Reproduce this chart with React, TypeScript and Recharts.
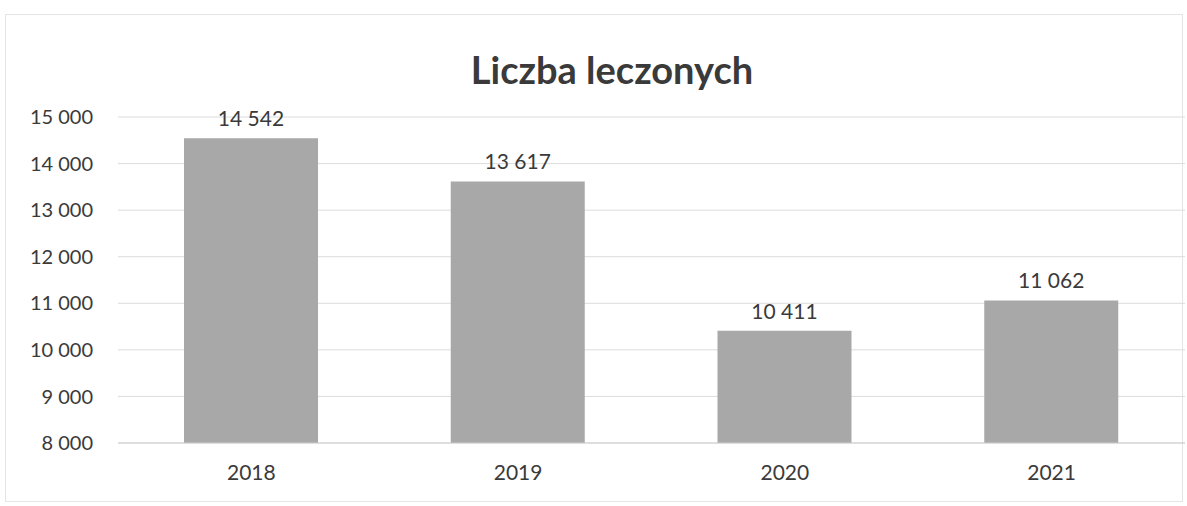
import { BarChart, Bar, XAxis, YAxis, CartesianGrid, LabelList } from "recharts";

const years = ["2018", "2019", "2020", "2021"];
const treated = [14542, 13617, 10411, 11062];
const yTicks = [8000, 9000, 10000, 11000, 12000, 13000, 14000, 15000];

const data = years.map((year, i) => ({ year, value: treated[i] }));

// thousands separated by a space, as in the original (also for 4-digit numbers)
const fmt = (v: number) => String(Math.round(v)).replace(/\B(?=(\d{3})+(?!\d))/g, " ");
const font = "Lato, 'Open Sans', sans-serif";

export default function App() {
  return (
    <div style={{ position: "absolute", left: 0, top: 0, width: 1187, height: 506, background: "#fff", fontFamily: font }}>
      <div style={{ position: "absolute", left: 5, top: 14, width: 1176, height: 486, border: "1px solid #e4e4e4" }} />
      <div style={{ position: "absolute", left: 0, top: 46, width: 1224, textAlign: "center", fontSize: 38, fontWeight: 700, color: "#3a3a3a" }}>
        Liczba leczonych
      </div>
      <BarChart width={1187} height={506} data={data} margin={{ top: 117, right: 2, bottom: 33, left: 0 }}>
        <CartesianGrid vertical={false} stroke="#dcdcdc" />
        <XAxis dataKey="year" height={30} axisLine={{ stroke: "#cfcfcf" }} tickLine={false} tickSize={0} tickMargin={22}
          tick={{ fill: "#3a3a3a", fontSize: 21, fontFamily: font }} />
        <YAxis domain={[8000, 15000]} ticks={yTicks} width={118} axisLine={false} tickLine={false} tickSize={0} tickMargin={25}
          tickFormatter={fmt} tick={{ fill: "#3a3a3a", fontSize: 20, fontFamily: font }} />
        <Bar dataKey="value" fill="#a8a8a8" barSize={134} isAnimationActive={false}>
          <LabelList dataKey="value" position="top" offset={12} formatter={(v: any) => fmt(Number(v))}
            style={{ fill: "#3a3a3a", fontSize: 21, fontFamily: font }} />
        </Bar>
      </BarChart>
    </div>
  );
}
